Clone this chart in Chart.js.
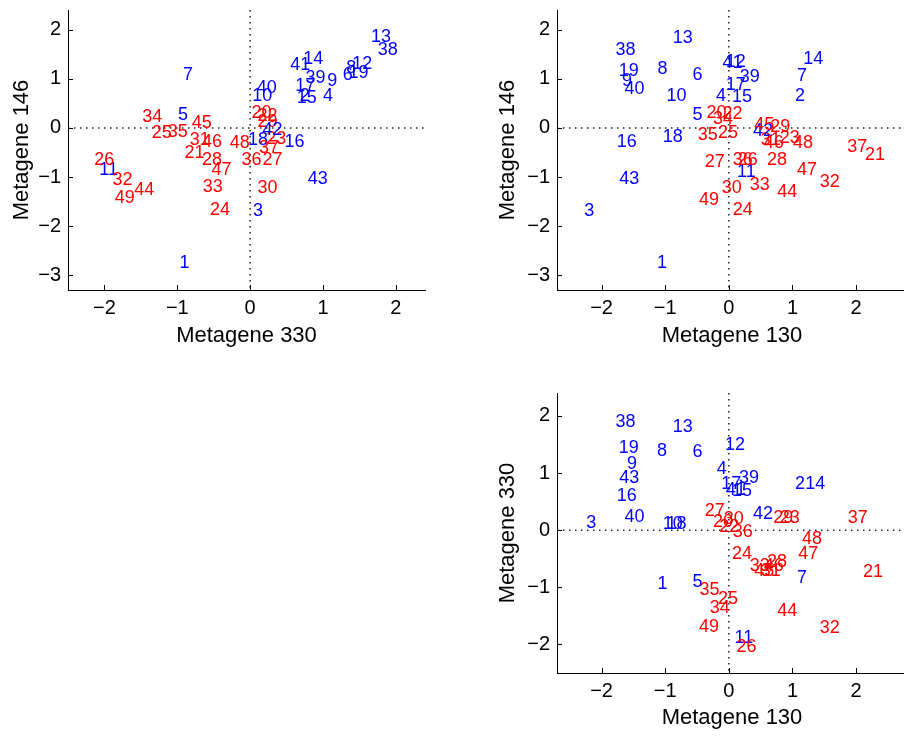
<!DOCTYPE html>
<html>
<head>
<meta charset="utf-8">
<script src="https://cdn.jsdelivr.net/npm/chart.js@4/dist/chart.umd.min.js"></script>
<style>
  html, body { margin: 0; padding: 0; background: #fff; overflow: hidden; }
  body { width: 904px; height: 740px; position: relative; }
  .panel { position: absolute; }
</style>
</head>
<body>
<div class="panel" style="left:0;top:0;width:435px;height:350px"><canvas id="plotA"></canvas></div>
<div class="panel" style="left:480px;top:0;width:440px;height:350px"><canvas id="plotB"></canvas></div>
<div class="panel" style="left:480px;top:380px;width:440px;height:360px"><canvas id="plotC"></canvas></div>
<script>
// sample numbers 1..49; blue = one class, red = the other
const sampleIds = Array.from({ length: 49 }, (_, i) => i + 1);
const blueIds = [1, 2, 3, 4, 5, 6, 7, 8, 9, 10, 11, 12, 13, 14, 15, 16, 17, 18, 19, 38, 39, 40, 41, 42, 43];

// top-left panel: Metagene 330 (x) vs Metagene 146 (y)
const panelAX = [-0.97, 0.68, 0.04, 1.0, -0.99, 1.27, -0.92, 1.32, 1.06, 0.03,
  -2.07, 1.4, 1.66, 0.73, 0.64, 0.47, 0.62, -0.03, 1.35, 0.02,
  -0.9, 0.1, 0.22, -0.55, -1.35, -2.14, 0.17, -0.66, 0.1, 0.1,
  -0.83, -1.89, -0.65, -1.48, -1.13, -0.12, 0.12, 1.75, 0.76, 0.09,
  0.55, 0.17, 0.79, -1.59, -0.8, -0.66, -0.53, -0.28, -1.86];
const panelAY = [-2.76, 0.64, -1.69, 0.64, 0.27, 1.08, 1.08, 1.22, 0.95, 0.64,
  -0.86, 1.3, 1.84, 1.41, 0.6, -0.28, 0.85, -0.24, 1.12, 0.3,
  -0.52, 0.25, -0.22, -1.67, -0.1, -0.65, -0.65, -0.66, 0.12, -1.23,
  -0.25, -1.06, -1.2, 0.22, -0.08, -0.65, -0.42, 1.59, 1.02, 0.81,
  1.27, -0.04, -1.05, -1.27, 0.1, -0.28, -0.86, -0.31, -1.43];

// top-right panel: Metagene 130 (x) vs Metagene 146 (y)
const panelBX = [-1.13, 1.04, -2.27, -0.2, -0.57, -0.57, 1.07, -1.12, -1.68, -0.98,
  0.13, -0.05, -0.88, 1.17, 0.05, -1.76, -0.05, -1.04, -1.73, -0.35,
  2.14, -0.1, 0.8, 0.06, -0.17, 0.14, -0.38, 0.6, 0.65, -0.11,
  0.5, 1.43, 0.33, -0.25, -0.49, 0.06, 1.86, -1.78, 0.17, -1.64,
  -0.1, 0.38, -1.72, 0.76, 0.4, 0.55, 1.07, 1.01, -0.47];
const panelBY = [-2.76, 0.64, -1.69, 0.64, 0.27, 1.08, 1.06, 1.2, 0.95, 0.65,
  -0.89, 1.35, 1.82, 1.41, 0.63, -0.28, 0.87, -0.18, 1.16, 0.3,
  -0.55, 0.28, -0.2, -1.67, -0.1, -0.65, -0.69, -0.65, 0.02, -1.23,
  -0.25, -1.1, -1.16, 0.18, -0.15, -0.65, -0.38, 1.59, 1.04, 0.8,
  1.33, -0.07, -1.05, -1.3, 0.05, -0.3, -0.86, -0.31, -1.47];

// bottom-right panel: Metagene 130 (x) vs Metagene 330 (y)
const panelCX = [-1.12, 1.04, -2.24, -0.19, -0.57, -0.57, 1.07, -1.13, -1.6, -1.04,
  0.09, -0.06, -0.88, 1.2, 0.05, -1.76, -0.12, -0.98, -1.73, -0.25,
  2.11, -0.15, 0.8, 0.05, -0.17, 0.12, -0.38, 0.6, 0.7, -0.08,
  0.5, 1.43, 0.33, -0.3, -0.46, 0.06, 1.87, -1.78, 0.16, -1.64,
  -0.05, 0.38, -1.72, 0.76, 0.4, 0.55, 1.09, 1.15, -0.47];
const panelCY = [-0.95, 0.8, 0.12, 1.07, -0.91, 1.36, -0.83, 1.39, 1.16, 0.1,
  -1.88, 1.49, 1.81, 0.8, 0.68, 0.6, 0.8, 0.1, 1.44, 0.15,
  -0.74, 0.05, 0.22, -0.42, -1.21, -2.05, 0.33, -0.55, 0.22, 0.2,
  -0.72, -1.72, -0.62, -1.37, -1.04, -0.03, 0.21, 1.89, 0.91, 0.23,
  0.7, 0.28, 0.91, -1.42, -0.72, -0.62, -0.42, -0.16, -1.7];

const xTicksA = [-2, -1, 0, 1, 2];
const xTicksBC = [-2, -1, 0, 1, 2];
const yTicksAB = [-3, -2, -1, 0, 1, 2];
const yTicksC = [-2, -1, 0, 1, 2];

const FONT = '"Liberation Sans", Arial, Helvetica, sans-serif';
const BLUE = '#0000ff';
const RED = '#ff0000';

function tickText(v) {
  return v < 0 ? '\u2212' + Math.abs(v) : String(v);
}

// numbers written at the points, MATLAB text() style: left aligned, middle
const labelPlugin = {
  id: 'sampleLabels',
  afterDatasetsDraw(chart) {
    const ctx = chart.ctx;
    const meta = chart.getDatasetMeta(0);
    ctx.save();
    ctx.font = '18px ' + FONT;
    ctx.textAlign = 'left';
    ctx.textBaseline = 'middle';
    meta.data.forEach((pt, i) => {
      const id = sampleIds[i];
      ctx.fillStyle = blueIds.includes(id) ? BLUE : RED;
      ctx.fillText(String(id), pt.x, pt.y);
    });
    ctx.restore();
  },
};

// dotted lines through the origin, plus inward tick marks
const axesPlugin = {
  id: 'zeroLines',
  beforeDatasetsDraw(chart) {
    const { ctx, chartArea: a, scales } = chart;
    const x0 = scales.x.getPixelForValue(0);
    const y0 = scales.y.getPixelForValue(0);
    ctx.save();
    ctx.strokeStyle = '#222';
    ctx.lineWidth = 1.5;
    ctx.setLineDash([1.5, 4.5]);
    ctx.beginPath();
    ctx.moveTo(x0, a.top);
    ctx.lineTo(x0, a.bottom);
    ctx.moveTo(a.left, y0);
    ctx.lineTo(a.right, y0);
    ctx.stroke();
    ctx.restore();
  },
  afterDraw(chart) {
    const { ctx, chartArea: a, scales } = chart;
    ctx.save();
    ctx.strokeStyle = '#000';
    ctx.lineWidth = 1;
    ctx.beginPath();
    scales.x.ticks.forEach((t) => {
      const px = Math.round(scales.x.getPixelForValue(t.value)) + 0.5;
      ctx.moveTo(px, a.bottom);
      ctx.lineTo(px, a.bottom - 5);
    });
    scales.y.ticks.forEach((t) => {
      const py = Math.round(scales.y.getPixelForValue(t.value)) + 0.5;
      ctx.moveTo(a.left, py);
      ctx.lineTo(a.left + 5, py);
    });
    ctx.stroke();
    ctx.restore();
  },
};

function makeScale(opts) {
  return {
    type: 'linear',
    min: opts.min,
    max: opts.max,
    grid: { display: false, drawTicks: false },
    border: { display: true, color: '#000', width: 1 },
    ticks: {
      autoSkip: false,
      maxRotation: 0,
      padding: opts.tickPad,
      color: '#000',
      font: { family: FONT, size: 20 },
      callback: (v) => tickText(v),
    },
    title: {
      display: true,
      text: opts.title,
      color: '#000',
      font: { family: FONT, size: 22 },
      padding: opts.titlePad,
    },
    afterBuildTicks(scale) {
      scale.ticks = opts.ticks.map((v) => ({ value: v }));
    },
    afterFit(scale) {
      if (opts.size.width) scale.width = opts.size.width;
      if (opts.size.height) scale.height = opts.size.height;
      scale.paddingTop = 0;
      scale.paddingBottom = 0;
      scale.paddingLeft = 0;
      scale.paddingRight = 0;
    },
  };
}

function makeChart(id, xs, ys, cfg) {
  const points = sampleIds.map((_, i) => ({ x: xs[i], y: ys[i] }));
  return new Chart(document.getElementById(id), {
    type: 'scatter',
    data: {
      datasets: [{ data: points, pointRadius: 0, pointHoverRadius: 0 }],
    },
    options: {
      responsive: true,
      maintainAspectRatio: false,
      animation: false,
      events: [],
      layout: { padding: cfg.padding },
      plugins: { legend: { display: false }, tooltip: { enabled: false } },
      scales: {
        x: makeScale(cfg.x),
        y: makeScale(cfg.y),
      },
    },
    plugins: [axesPlugin, labelPlugin],
  });
}

makeChart('plotA', panelAX, panelAY, {
  padding: { top: 10, right: 10, left: 0, bottom: 0 },
  x: { min: -2.5, max: 2.4, ticks: xTicksA, title: 'Metagene 330', tickPad: 6,
    titlePad: { top: 0, bottom: 1 }, size: { height: 60 } },
  y: { min: -3.3, max: 2.4, ticks: yTicksAB, title: 'Metagene 146', tickPad: 7,
    titlePad: { top: 9, bottom: 0 }, size: { width: 68 } },
});

makeChart('plotB', panelBX, panelBY, {
  padding: { top: 10, right: 13, left: 0, bottom: 0 },
  x: { min: -2.7, max: 2.8, ticks: xTicksBC, title: 'Metagene 130', tickPad: 6,
    titlePad: { top: 0, bottom: 1 }, size: { height: 60 } },
  y: { min: -3.3, max: 2.4, ticks: yTicksAB, title: 'Metagene 146', tickPad: 7,
    titlePad: { top: 15, bottom: 0 }, size: { width: 77 } },
});

makeChart('plotC', panelCX, panelCY, {
  padding: { top: 13, right: 13, left: 0, bottom: 0 },
  x: { min: -2.7, max: 2.8, ticks: xTicksBC, title: 'Metagene 130', tickPad: 6,
    titlePad: { top: 0, bottom: 9 }, size: { height: 67 } },
  y: { min: -2.5, max: 2.4, ticks: yTicksC, title: 'Metagene 330', tickPad: 7,
    titlePad: { top: 15, bottom: 0 }, size: { width: 77 } },
});
</script>
</body>
</html>
